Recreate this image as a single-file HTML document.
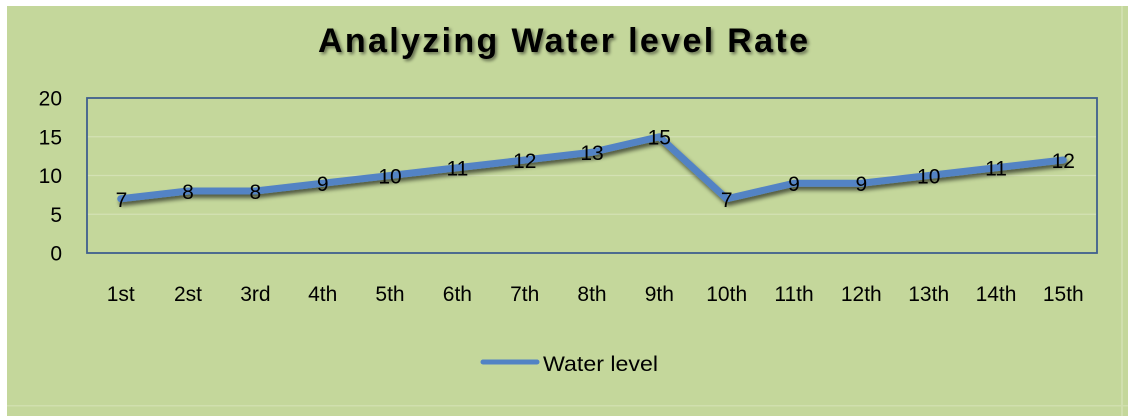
<!DOCTYPE html>
<html>
<head>
<meta charset="utf-8">
<style>
  html,body{margin:0;padding:0;background:#ffffff;}
  svg{display:block;}
  text{font-family:"Liberation Sans",sans-serif;fill:#000;}
</style>
</head>
<body>
<svg width="1128" height="416" viewBox="0 0 1128 416" xmlns="http://www.w3.org/2000/svg">
  <defs>
    <filter id="ls" x="-5%" y="-20%" width="110%" height="140%">
      <feGaussianBlur in="SourceAlpha" stdDeviation="2.2"/>
      <feOffset dx="2" dy="3.5" result="b"/>
      <feComponentTransfer><feFuncA type="linear" slope="0.6"/></feComponentTransfer>
      <feMerge><feMergeNode/><feMergeNode in="SourceGraphic"/></feMerge>
    </filter>
    <filter id="ts" x="-5%" y="-30%" width="110%" height="160%">
      <feGaussianBlur in="SourceAlpha" stdDeviation="1.5"/>
      <feOffset dx="2" dy="2" result="b"/>
      <feComponentTransfer><feFuncA type="linear" slope="0.5"/></feComponentTransfer>
      <feMerge><feMergeNode/><feMergeNode in="SourceGraphic"/></feMerge>
    </filter>
  </defs>

  <!-- chart background -->
  <rect x="7" y="6" width="1121" height="410" fill="#c4d79b"/>
  <rect x="7" y="405" width="1121" height="1.5" fill="#d0dfae"/>
  <rect x="1121" y="6" width="2" height="410" fill="#d0dfae"/>

  <!-- title -->
  <text x="563" y="52" text-anchor="middle" font-size="34" font-weight="bold" textLength="490" lengthAdjust="spacing" filter="url(#ts)">Analyzing Water level Rate</text>

  <!-- gridlines -->
  <g stroke="#d3e1b4" stroke-width="1.3">
    <line x1="87" y1="136.75" x2="1097" y2="136.75"/>
    <line x1="87" y1="175.5" x2="1097" y2="175.5"/>
    <line x1="87" y1="214.25" x2="1097" y2="214.25"/>
  </g>
  <!-- plot border -->
  <rect x="87" y="98" width="1010" height="155" fill="none" stroke="#3f5f8e" stroke-width="1.8"/>

  <!-- y axis labels -->
  <g font-size="21" text-anchor="end">
    <text x="62" y="105.5">20</text>
    <text x="62" y="144.25">15</text>
    <text x="62" y="183">10</text>
    <text x="62" y="221.75">5</text>
    <text x="62" y="260.5">0</text>
  </g>

  <!-- x axis labels -->
  <g font-size="21" text-anchor="middle">
    <text x="120.7" y="301">1st</text>
    <text x="188.0" y="301">2st</text>
    <text x="255.4" y="301">3rd</text>
    <text x="322.7" y="301">4th</text>
    <text x="390.0" y="301">5th</text>
    <text x="457.4" y="301">6th</text>
    <text x="524.7" y="301">7th</text>
    <text x="592.0" y="301">8th</text>
    <text x="659.3" y="301">9th</text>
    <text x="726.7" y="301">10th</text>
    <text x="794.0" y="301">11th</text>
    <text x="861.3" y="301">12th</text>
    <text x="928.7" y="301">13th</text>
    <text x="996.0" y="301">14th</text>
    <text x="1063.3" y="301">15th</text>
  </g>

  <!-- series line -->
  <polyline fill="none" stroke="#5283c4" stroke-width="7" stroke-linejoin="round" stroke-linecap="round" filter="url(#ls)"
    points="120.7,198.75 188.0,191 255.4,191 322.7,183.25 390.0,175.5 457.4,167.75 524.7,160 592.0,152.25 659.3,136.75 726.7,198.75 794.0,183.25 861.3,183.25 928.7,175.5 996.0,167.75 1063.3,160"/>

  <!-- data labels -->
  <g font-size="21" text-anchor="middle">
    <text x="121.5" y="207">7</text>
    <text x="188.0" y="199">8</text>
    <text x="255.4" y="199">8</text>
    <text x="322.7" y="191">9</text>
    <text x="390.0" y="183.5">10</text>
    <text x="457.4" y="175.5">11</text>
    <text x="524.7" y="168">12</text>
    <text x="592.0" y="160">13</text>
    <text x="659.3" y="144.5">15</text>
    <text x="726.7" y="207">7</text>
    <text x="794.0" y="191">9</text>
    <text x="861.3" y="191">9</text>
    <text x="928.7" y="183.5">10</text>
    <text x="996.0" y="175.5">11</text>
    <text x="1063.3" y="168">12</text>
  </g>

  <!-- legend -->
  <line x1="483" y1="362" x2="537" y2="362" stroke="#5283c4" stroke-width="5" stroke-linecap="round"/>
  <text x="543" y="371" font-size="21" textLength="115" lengthAdjust="spacingAndGlyphs">Water level</text>
</svg>
</body>
</html>
